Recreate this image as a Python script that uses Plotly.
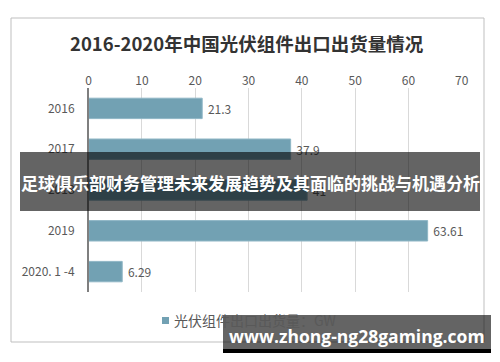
import plotly.graph_objects as go

categories = ["2016", "2017", "2018", "2019", "2020. 1 -4"]
values = [21.3, 37.9, 41, 63.61, 6.29]
value_labels = ["21.3", "37.9", "41", "63.61", "6.29"]
series_name = "光伏组件出口出货量：GW"
title_text = "2016-2020年中国光伏组件出口出货量情况"
banner_text = "足球俱乐部财务管理未来发展趋势及其面临的挑战与机遇分析"
watermark_text = "www.zhong-ng28gaming.com"

W, H = 500, 362
OFF = 8  # page body margin in the browser
FONT = "Noto Sans CJK SC, Noto Sans, sans-serif"
BAR_COLOR = "#72A1B3"

def px_x(x):
    return (x - OFF) / W

def px_y(y):
    return 1 - (y - OFF) / H

fig = go.Figure()
fig.add_trace(go.Bar(
    y=categories, x=values, orientation="h",
    name=series_name, showlegend=False,
    marker=dict(color=BAR_COLOR, line=dict(color="#8FB6C5", width=1)),
    text=value_labels, texttemplate="\u00a0%{text}",
    textposition="outside", cliponaxis=False,
    textfont=dict(size=12, color="#595959", family=FONT),
))

fig.update_layout(
    width=W, height=H,
    margin=dict(l=0, r=0, t=0, b=0, autoexpand=False),
    paper_bgcolor="white", plot_bgcolor="white",
    bargap=0.5,
    showlegend=False,
    xaxis=dict(domain=[px_x(88.7), px_x(461.7)], range=[0, 70], dtick=10, side="top",
               showgrid=True, gridcolor="#D9D9D9", gridwidth=1, zeroline=False,
               showline=False, ticks="", automargin=False,
               tickfont=dict(size=12, color="#595959", family=FONT), fixedrange=True),
    yaxis=dict(domain=[px_y(292), px_y(88)], autorange="reversed", type="category",
               showline=True, linecolor="#7F7F7F", linewidth=1.5, showgrid=False,
               ticks="", ticklabelstandoff=10, automargin=False,
               tickfont=dict(size=12, color="#595959", family=FONT)),
    font=dict(family=FONT),
)

# chart border
fig.add_shape(type="rect", xref="paper", yref="paper",
              x0=px_x(11), x1=px_x(484), y0=px_y(342), y1=px_y(18),
              line=dict(color="#BFBFBF", width=1), layer="below")

# title
fig.add_annotation(xref="paper", yref="paper", x=px_x(247), y=px_y(43),
                   text="<b>" + title_text + "</b>", showarrow=False,
                   font=dict(size=18.5, color="#333333", family=FONT),
                   xanchor="center", yanchor="middle")

# legend (symbol + label)
fig.add_shape(type="rect", xref="paper", yref="paper",
              x0=px_x(162), x1=px_x(169), y0=px_y(324), y1=px_y(317),
              fillcolor=BAR_COLOR, line=dict(width=0))
fig.add_annotation(xref="paper", yref="paper", x=px_x(172), y=px_y(320),
                   text=series_name, showarrow=False,
                   font=dict(size=14, color="#595959", family=FONT),
                   xanchor="left", yanchor="middle")

# banner overlay
fig.add_shape(type="rect", xref="paper", yref="paper",
              x0=px_x(20), x1=px_x(480), y0=px_y(211), y1=px_y(152),
              fillcolor="rgba(5,5,5,0.62)", line=dict(width=0), layer="above")
fig.add_annotation(xref="paper", yref="paper", x=px_x(250), y=px_y(183),
                   text="<b>" + banner_text + "</b>", showarrow=False,
                   font=dict(size=17, color="white", family=FONT),
                   xanchor="center", yanchor="middle")

# watermark
fig.add_shape(type="rect", xref="paper", yref="paper",
              x0=px_x(223), x1=px_x(491), y0=px_y(349), y1=px_y(315),
              fillcolor="rgba(5,5,5,0.62)", line=dict(width=0), layer="above")
fig.add_shape(type="rect", xref="paper", yref="paper",
              x0=px_x(223), x1=px_x(491), y0=px_y(353), y1=px_y(349),
              fillcolor="black", line=dict(width=0), layer="above")
fig.add_annotation(xref="paper", yref="paper", x=px_x(357), y=px_y(336),
                   text="<b>" + watermark_text + "</b>", showarrow=False,
                   font=dict(size=17.5, color="white", family="Open Sans, sans-serif"),
                   xanchor="center", yanchor="middle")

fig.write_html("out.html")
